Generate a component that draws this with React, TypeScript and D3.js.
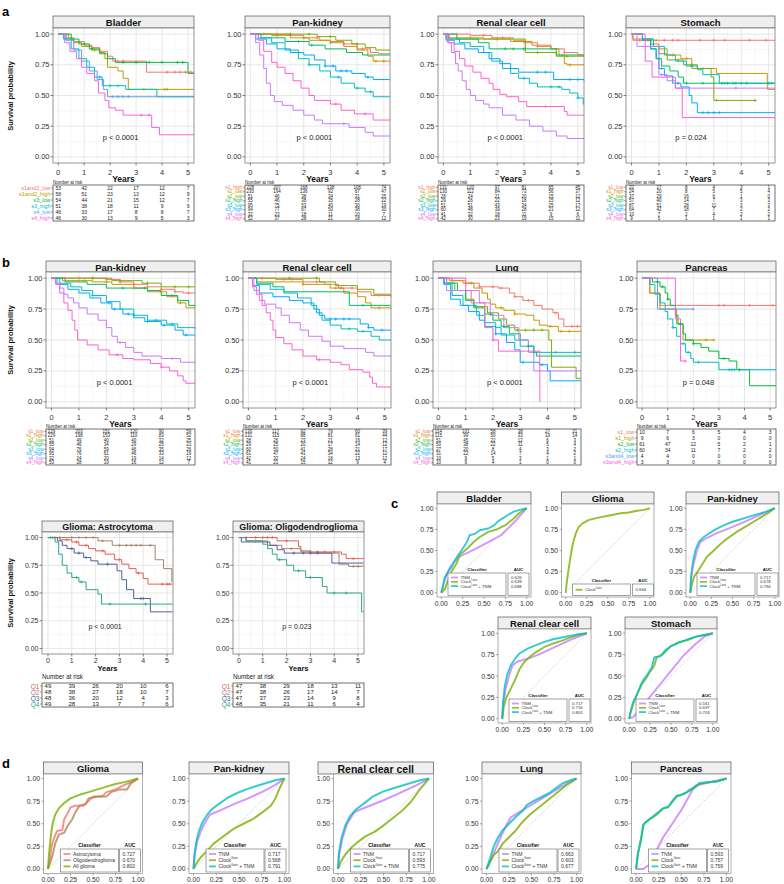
import React from "react";
import * as d3 from "d3";

const FONT = "'Liberation Sans', Arial, Helvetica, sans-serif";

const yearTicks = [0, 1, 2, 3, 4, 5];
const survTicks = [0, 0.25, 0.5, 0.75, 1];
const rocTicks = [0, 0.25, 0.5, 0.75, 1];

const HUE6 = ["#F8766D", "#B79F00", "#00BA38", "#00BFC4", "#619CFF", "#F564E3"];
const HUE8 = ["#F8766D", "#CD9600", "#7CAE00", "#00BE67", "#00BFC4", "#00A9FF", "#C77CFF", "#FF61CC"];
const QCOLORS = ["#E8604A", "#A08672", "#51609A", "#2BA78A"];
const ROC3 = ["#C77CFF", "#7CAE00", "#00BFC4"];
const GLIOMA3 = ["#F8766D", "#B5835A", "#7CAE00"];

// ---------------- panel a ----------------
const bladderGroups = ["s1and2_low", "s1and2_high", "s3_low", "s3_high", "s4_low", "s4_high"];
const bladderCurves = [
  [[0, 1], [0.3, 0.97], [0.6, 0.94], [1.0, 0.91], [1.3, 0.89], [1.6, 0.86], [1.9, 0.82], [2.1, 0.78], [3.4, 0.69], [5.23, 0.69]],
  [[0, 1], [0.4, 0.96], [0.6, 0.93], [0.9, 0.9], [1.3, 0.87], [1.6, 0.85], [1.8, 0.8], [1.9, 0.73], [2.3, 0.7], [2.5, 0.64], [2.7, 0.55], [5.23, 0.55]],
  [[0, 1], [0.5, 0.96], [0.8, 0.92], [1.2, 0.88], [1.6, 0.84], [1.9, 0.8], [2.2, 0.77], [5.0, 0.68], [5.23, 0.68]],
  [[0, 1], [0.2, 0.96], [0.5, 0.88], [0.8, 0.8], [1.1, 0.73], [1.4, 0.65], [1.7, 0.58], [2.6, 0.55], [3.8, 0.49], [5.23, 0.49]],
  [[0, 1], [0.3, 0.95], [0.6, 0.87], [0.9, 0.78], [1.2, 0.7], [1.5, 0.63], [1.75, 0.55], [1.9, 0.49], [5.23, 0.49]],
  [[0, 1], [0.25, 0.93], [0.45, 0.86], [0.7, 0.8], [0.9, 0.73], [1.1, 0.68], [1.4, 0.62], [1.55, 0.52], [1.8, 0.46], [1.95, 0.4], [2.2, 0.38], [2.5, 0.34], [3.6, 0.24], [3.9, 0.18], [5.23, 0.18]],
];
const bladderCensor = [[2.3, 2.5, 4.2, 4.5, 4.7, 4.9, 5.1], [1.4, 3.3, 4.1, 4.2], [1.0, 1.3, 2.5, 3.0, 3.5, 4.0, 4.6, 4.8], [0.3, 1.6, 2.0, 2.3], [2.1, 2.3, 2.5, 2.7], [3.2, 3.5]];
const bladderRisk = [[53, 42, 22, 17, 12, 7], [58, 51, 23, 13, 12, 9], [54, 44, 21, 15, 12, 7], [51, 38, 18, 11, 9, 9], [46, 33, 17, 8, 8, 7], [46, 30, 13, 9, 5, 3]];

const panKidneyAGroups = ["s1_high", "s1_low", "s2_low", "s2_high", "s3_low", "s3_high", "s4_low", "s4_high"];
const panKidneyACurves = [
  [[0, 1], [1.5, 0.99], [2.0, 0.97], [2.6, 0.95], [3.0, 0.94], [3.5, 0.92], [4.0, 0.88], [4.5, 0.85], [4.8, 0.84], [5.23, 0.84]],
  [[0, 1], [0.8, 0.99], [1.5, 0.97], [2.2, 0.95], [3.0, 0.93], [3.5, 0.9], [4.0, 0.87], [4.4, 0.82], [4.6, 0.78], [5.23, 0.78]],
  [[0, 1], [2.5, 0.98], [3.2, 0.95], [3.8, 0.92], [4.3, 0.89], [4.7, 0.87], [5.23, 0.87]],
  [[0, 1], [0.4, 0.97], [1.3, 0.94], [2.2, 0.91], [2.8, 0.88], [3.6, 0.85], [4.2, 0.83], [5.23, 0.83]],
  [[0, 1], [0.3, 0.97], [0.8, 0.93], [1.3, 0.87], [1.8, 0.8], [2.2, 0.75], [2.6, 0.7], [3.0, 0.65], [3.4, 0.6], [3.9, 0.56], [4.3, 0.53], [4.6, 0.49], [5.23, 0.49]],
  [[0, 1], [0.2, 0.96], [0.6, 0.92], [1.0, 0.88], [1.5, 0.85], [2.0, 0.83], [2.4, 0.79], [2.8, 0.74], [3.2, 0.7], [3.8, 0.68], [4.3, 0.65], [4.6, 0.63], [5.23, 0.63]],
  [[0, 1], [0.2, 0.93], [0.35, 0.83], [0.5, 0.72], [0.6, 0.6], [0.75, 0.5], [0.9, 0.45], [1.2, 0.42], [1.6, 0.38], [2.0, 0.34], [2.4, 0.3], [2.7, 0.27], [3.7, 0.24], [4.3, 0.2], [4.6, 0.17], [5.23, 0.17]],
  [[0, 1], [0.3, 0.95], [0.5, 0.86], [0.8, 0.77], [1.0, 0.73], [1.3, 0.68], [1.6, 0.62], [1.9, 0.56], [2.2, 0.5], [2.4, 0.46], [3.0, 0.43], [3.4, 0.38], [3.9, 0.35], [4.6, 0.3], [5.23, 0.3]],
];
const panKidneyACensor = [[0.5, 1.0, 1.5, 2.5, 3.5, 4.2], [1, 2, 3, 4.7, 5.0], [1.5, 2.2, 3.0, 4.0], [1.8, 2.3], [2.2, 3.3, 4.0, 4.5], [2.8, 3.1, 3.4, 3.6, 4.4], [3.5], [3.2, 4.3]];
const panKidneyARisk = [[228, 207, 168, 138, 106, 74], [230, 194, 136, 92, 67, 47], [51, 46, 38, 34, 31, 25], [55, 46, 38, 35, 28, 22], [95, 75, 53, 40, 30, 19], [94, 77, 67, 50, 38, 30], [32, 23, 18, 11, 10, 7], [52, 37, 28, 21, 18, 12]];

const renalAGroups = ["s1_high", "s1_low", "s2_low", "s2_high", "s3_low", "s3_high", "s4_low", "s4_high"];
const renalACurves = [
  [[0, 1], [1.0, 0.99], [1.8, 0.97], [2.6, 0.95], [3.0, 0.93], [3.5, 0.9], [4.0, 0.88], [4.5, 0.85], [5.0, 0.83], [5.23, 0.83]],
  [[0, 1], [0.2, 0.97], [1.5, 0.96], [2.5, 0.94], [3.3, 0.91], [4.0, 0.88], [4.3, 0.83], [4.5, 0.76], [4.6, 0.75], [5.23, 0.75]],
  [[0, 1], [0.1, 0.96], [3.05, 0.85], [4.2, 0.82], [5.23, 0.82]],
  [[0, 1], [0.5, 0.96], [1.3, 0.93], [1.7, 0.88], [4.2, 0.83], [5.23, 0.83]],
  [[0, 1], [0.2, 0.96], [0.6, 0.93], [1.0, 0.9], [1.5, 0.85], [1.8, 0.78], [2.2, 0.72], [2.5, 0.68], [2.8, 0.64], [3.2, 0.6], [3.5, 0.57], [4.4, 0.55], [4.7, 0.52], [5.0, 0.48], [5.2, 0.43], [5.23, 0.43]],
  [[0, 1], [0.1, 0.95], [0.4, 0.92], [0.8, 0.88], [1.3, 0.85], [1.7, 0.8], [2.1, 0.76], [2.5, 0.72], [2.8, 0.69], [4.1, 0.63], [5.23, 0.62]],
  [[0, 1], [0.15, 0.93], [0.3, 0.85], [0.45, 0.76], [0.55, 0.7], [0.7, 0.62], [0.85, 0.55], [1.0, 0.5], [1.2, 0.46], [1.5, 0.43], [1.7, 0.4], [2.2, 0.34], [2.7, 0.3], [3.2, 0.25], [3.7, 0.21], [4.2, 0.17], [4.6, 0.15], [5.23, 0.15]],
  [[0, 1], [0.2, 0.93], [0.4, 0.86], [0.6, 0.8], [0.8, 0.74], [1.1, 0.69], [1.4, 0.64], [1.7, 0.6], [1.85, 0.55], [2.1, 0.51], [2.35, 0.49], [2.8, 0.45], [3.1, 0.41], [4.5, 0.37], [4.6, 0.34], [5.23, 0.34]],
];
const renalACensor = [[0.5, 1.5, 2.2, 3.5, 4.5, 5.1], [1, 2, 3, 4.7], [3.5, 4.6], [2.3, 2.6, 3.0], [3.0, 4.0, 4.3, 5.0], [3.5, 3.8, 4.7, 5.0], [], [3.8]];
const renalARisk = [[131, 120, 97, 81, 65, 45], [130, 112, 84, 73, 56, 37], [28, 24, 21, 20, 15, 12], [29, 26, 22, 18, 15, 12], [51, 51, 43, 34, 25, 17], [60, 48, 39, 28, 21, 12], [41, 32, 18, 11, 9, 6], [42, 30, 23, 19, 15, 11]];

const stomachGroups = ["s1_low", "s1_high", "s2_low", "s2_high", "s3_low", "s3_high", "s4_low", "s4_high"];
const stomachCurves = [
  [[0, 1], [0.05, 0.95], [5.23, 0.95]],
  [[0, 1], [0.05, 0.96], [0.7, 0.92], [1.0, 0.88], [1.3, 0.83], [1.8, 0.8], [2.2, 0.72], [3.1, 0.68], [4.95, 0.55], [5.23, 0.55]],
  [[0, 1], [0.4, 0.96], [0.8, 0.9], [1.0, 0.84], [1.3, 0.79], [1.9, 0.75], [2.4, 0.72], [2.9, 0.65], [3.0, 0.46], [4.55, 0.46]],
  [[0, 1], [0.4, 0.95], [0.7, 0.88], [0.9, 0.8], [1.1, 0.74], [1.4, 0.7], [1.7, 0.65], [1.9, 0.6], [5.23, 0.6]],
  [[0, 1], [0.4, 0.96], [0.8, 0.9], [1.2, 0.83], [1.6, 0.78], [2.0, 0.74], [2.4, 0.71], [2.6, 0.67], [3.2, 0.6], [5.23, 0.6]],
  [[0, 1], [0.4, 0.95], [0.7, 0.88], [0.9, 0.8], [1.0, 0.72], [1.2, 0.66], [1.5, 0.6], [1.8, 0.57], [2.1, 0.5], [2.2, 0.44], [2.4, 0.36], [5.23, 0.36]],
  [[0, 1], [0.2, 0.9], [1.0, 0.67], [1.3, 0.62], [1.6, 0.56], [5.23, 0.56]],
  [[0, 1], [0.5, 0.78], [0.75, 0.65], [1.6, 0.56], [1.85, 0.32], [5.23, 0.32]],
];
const stomachCensor = [[0.3, 0.6, 0.9, 1.2, 1.5, 1.7, 2.5, 3.0, 3.4, 4.3, 4.9], [1.5, 2.0], [1.7, 2.2, 2.6, 3.1, 4.5], [1.0, 2.0, 2.6, 3.3, 3.5, 3.8, 4.2, 5.0], [2.2, 3.4, 3.7, 4.0, 5.1], [1.1, 1.7, 2.6, 2.8, 3.0, 3.2], [1.1, 3.8], []];
const stomachRisk = [[22, 17, 8, 4, 3, 1], [24, 20, 8, 5, 5, 4], [37, 29, 16, 6, 1, 0], [57, 40, 14, 7, 3, 3], [87, 51, 28, 11, 3, 3], [64, 42, 18, 7, 2, 2], [10, 7, 2, 4, 2, 2], [9, 5, 1, 1, 1, 1]];

// ---------------- panel b ----------------
const panKidneyBGroups = ["s1_low", "s1_high", "s2_low", "s2_high", "s3_low", "s3_high", "s4_low", "s4_high"];
const panKidneyBCurves = [
  [[0, 1], [2.0, 0.99], [2.5, 0.97], [3.0, 0.95], [3.5, 0.93], [4.0, 0.91], [4.5, 0.89], [4.8, 0.88], [5.23, 0.88]],
  [[0, 1], [0.4, 0.98], [1.5, 0.97], [2.2, 0.95], [3.0, 0.92], [3.5, 0.89], [4.2, 0.85], [4.6, 0.8], [4.9, 0.76], [5.23, 0.76]],
  [[0, 1], [2.2, 0.98], [3.3, 0.96], [4.0, 0.93], [5.23, 0.93]],
  [[0, 1], [0.5, 0.97], [1.3, 0.95], [2.0, 0.92], [3.5, 0.9], [4.0, 0.86], [4.6, 0.82], [5.0, 0.78], [5.23, 0.77]],
  [[0, 1], [0.3, 0.96], [0.7, 0.93], [1.1, 0.9], [1.5, 0.86], [2.0, 0.81], [2.5, 0.75], [3.0, 0.7], [3.5, 0.66], [4.2, 0.63], [4.6, 0.6], [5.23, 0.59]],
  [[0, 1], [0.2, 0.95], [0.6, 0.91], [1.0, 0.88], [1.4, 0.84], [1.8, 0.8], [2.2, 0.75], [2.6, 0.71], [3.0, 0.68], [3.4, 0.65], [4.0, 0.62], [4.5, 0.58], [4.8, 0.54], [5.23, 0.54]],
  [[0, 1], [0.15, 0.96], [0.3, 0.92], [0.45, 0.87], [0.6, 0.84], [0.8, 0.8], [1.0, 0.76], [1.3, 0.71], [1.7, 0.66], [2.0, 0.6], [2.2, 0.53], [2.4, 0.48], [2.7, 0.44], [3.0, 0.4], [3.3, 0.37], [4.0, 0.35], [4.7, 0.32], [5.23, 0.32]],
  [[0, 1], [0.15, 0.95], [0.3, 0.88], [0.45, 0.8], [0.6, 0.74], [0.75, 0.66], [0.85, 0.58], [0.95, 0.5], [1.3, 0.46], [1.7, 0.42], [2.1, 0.38], [2.6, 0.35], [3.0, 0.34], [3.6, 0.31], [4.0, 0.28], [4.3, 0.25], [4.6, 0.21], [4.8, 0.17], [4.9, 0.15], [5.23, 0.15]],
];
const panKidneyBCensor = [[0.5, 1, 1.5, 2, 2.5, 3, 3.5, 4, 4.5, 5], [1.2, 2, 3, 4, 4.7], [1.5, 2.5, 3.5, 4.5, 5], [2.6, 3.4, 4.4], [1.5, 3.0, 3.8, 4.4], [2.1, 2.3, 2.8, 3.5, 4.1, 4.9], [2.5, 4.4], [2.4, 4.0]];
const panKidneyBRisk = [[229, 203, 151, 120, 90, 59], [229, 198, 153, 110, 83, 52], [51, 49, 40, 40, 32, 25], [55, 46, 34, 29, 25, 21], [94, 76, 59, 46, 35, 26], [95, 76, 61, 46, 33, 19], [32, 24, 20, 19, 14, 12], [53, 28, 19, 16, 12, 7]];

const renalBGroups = ["s1_low", "s1_high", "s2_low", "s2_high", "s3_low", "s3_high", "s4_low", "s4_high"];
const renalBCurves = [
  [[0, 1], [1.0, 0.99], [2.0, 0.97], [2.8, 0.95], [3.3, 0.92], [4.0, 0.89], [4.5, 0.86], [5.23, 0.85]],
  [[0, 1], [0.3, 0.97], [2.0, 0.95], [3.0, 0.92], [3.5, 0.88], [4.0, 0.85], [4.3, 0.8], [4.5, 0.76], [5.23, 0.75]],
  [[0, 1], [2.6, 0.97], [3.2, 0.94], [4.0, 0.91], [4.6, 0.87], [5.23, 0.87]],
  [[0, 1], [0.3, 0.96], [0.9, 0.93], [1.3, 0.89], [3.7, 0.78], [5.23, 0.78]],
  [[0, 1], [0.3, 0.95], [0.8, 0.91], [1.3, 0.88], [1.8, 0.84], [2.3, 0.78], [2.5, 0.72], [2.7, 0.66], [3.0, 0.62], [3.4, 0.59], [4.0, 0.57], [4.5, 0.53], [4.8, 0.5], [5.23, 0.5]],
  [[0, 1], [0.15, 0.94], [0.4, 0.88], [0.9, 0.85], [1.5, 0.82], [2.0, 0.8], [2.4, 0.75], [2.6, 0.7], [2.8, 0.67], [4.1, 0.63], [4.4, 0.6], [4.6, 0.58], [5.23, 0.58]],
  [[0, 1], [0.2, 0.9], [0.4, 0.82], [0.6, 0.79], [1.0, 0.76], [1.2, 0.7], [1.5, 0.64], [1.9, 0.58], [2.2, 0.53], [2.7, 0.49], [3.0, 0.45], [3.5, 0.43], [4.3, 0.4], [4.6, 0.37], [5.23, 0.37]],
  [[0, 1], [0.15, 0.93], [0.3, 0.87], [0.5, 0.78], [0.65, 0.72], [0.8, 0.66], [0.9, 0.58], [1.0, 0.52], [1.3, 0.47], [1.6, 0.42], [2.0, 0.37], [2.5, 0.34], [3.0, 0.32], [3.4, 0.3], [3.7, 0.26], [4.2, 0.24], [4.45, 0.2], [4.55, 0.15], [4.7, 0.12], [5.23, 0.12]],
];
const renalBCensor = [[0.5, 1.3, 1.6, 2.5, 3.4, 3.8, 4.8], [2, 3.2, 4.8], [1.5, 2.5], [4.2], [3.7, 4.2], [3.0, 3.2, 3.5, 3.7, 4.4, 4.9], [], [2.6]];
const renalBRisk = [[130, 117, 92, 79, 60, 39], [131, 115, 88, 81, 61, 44], [28, 26, 23, 21, 16, 12], [29, 25, 20, 17, 14, 12], [60, 50, 41, 28, 21, 17], [61, 47, 41, 34, 22, 12], [42, 32, 24, 18, 13, 12], [41, 21, 15, 12, 9, 4]];

const lungGroups = ["s1_low", "s1_high", "s2_low", "s2_high", "s3_low", "s3_high", "s4_low", "s4_high"];
const lungCurves = [
  [[0, 1], [0.5, 0.98], [1.0, 0.96], [1.5, 0.93], [2.2, 0.92], [2.6, 0.88], [2.8, 0.85], [3.1, 0.82], [3.5, 0.78], [3.8, 0.75], [4.2, 0.72], [4.4, 0.67], [4.6, 0.61], [5.23, 0.61]],
  [[0, 1], [0.4, 0.98], [0.9, 0.96], [1.3, 0.92], [1.6, 0.88], [1.8, 0.83], [1.9, 0.79], [2.1, 0.76], [2.4, 0.74], [2.8, 0.71], [3.2, 0.7], [3.5, 0.66], [3.7, 0.62], [4.0, 0.61], [4.4, 0.57], [5.23, 0.57]],
  [[0, 1], [0.2, 0.96], [0.6, 0.9], [1.0, 0.83], [1.3, 0.77], [1.8, 0.72], [2.2, 0.67], [2.5, 0.62], [2.8, 0.58], [4.05, 0.5], [4.15, 0.28], [5.05, 0.19], [5.23, 0.19]],
  [[0, 1], [0.3, 0.96], [0.7, 0.9], [1.0, 0.82], [1.3, 0.76], [1.7, 0.71], [2.0, 0.66], [2.3, 0.61], [2.6, 0.55], [3.0, 0.5], [3.3, 0.45], [3.5, 0.4], [3.6, 0.37], [5.23, 0.37]],
  [[0, 1], [0.2, 0.96], [0.5, 0.86], [0.9, 0.78], [1.4, 0.7], [1.7, 0.64], [2.1, 0.6], [2.3, 0.54], [2.8, 0.5], [3.0, 0.45], [3.5, 0.4], [5.23, 0.4]],
  [[0, 1], [0.2, 0.95], [0.45, 0.83], [0.8, 0.78], [1.1, 0.73], [1.5, 0.66], [1.7, 0.61], [2.1, 0.55], [2.5, 0.48], [2.8, 0.42], [3.0, 0.32], [3.7, 0.3], [4.0, 0.25], [4.1, 0.17], [5.23, 0.17]],
  [[0, 1], [0.3, 0.9], [1.5, 0.8], [1.9, 0.7], [2.4, 0.6], [2.95, 0.5], [3.3, 0.4], [3.5, 0.25], [5.23, 0.25]],
  [[0, 1], [1.0, 0.9], [1.2, 0.8], [1.7, 0.6], [2.0, 0.5], [2.2, 0.41], [3.72, 0.0], [3.73, 0.0]],
];
const lungCensor = [[0.5, 1, 1.5, 2, 2.3, 2.8, 3.3, 4.3, 4.9, 5.1], [1.2, 2.3, 2.8, 4.1, 4.5, 4.8], [2.9, 3.2, 3.5, 3.8], [1.9, 2.4, 3.3], [3.5, 4.3, 5.0], [2.1, 3.1, 3.8], [3.0], [2.0]];
const lungRisk = [[114, 101, 58, 38, 27, 21], [115, 99, 50, 33, 19, 14], [51, 45, 22, 12, 6, 3], [50, 38, 22, 11, 5, 4], [27, 20, 8, 4, 3, 2], [31, 22, 14, 7, 4, 2], [10, 9, 5, 3, 1, 1], [10, 9, 4, 1, 0, 0]];

const pancreasGroups = ["s1_low", "s1_high", "s2_low", "s2_high", "s3and4_low", "s3and4_high"];
const pancreasCurves = [
  [[0, 1], [0.3, 0.88], [0.7, 0.78], [5.23, 0.78]],
  [[0, 1], [0.3, 0.88], [0.7, 0.75], [1.35, 0.63], [1.6, 0.5], [2.8, 0.5]],
  [[0, 1], [0.4, 0.97], [0.7, 0.93], [0.9, 0.88], [1.0, 0.83], [1.1, 0.78], [1.3, 0.7], [1.4, 0.63], [1.6, 0.55], [1.7, 0.5], [2.0, 0.47], [2.3, 0.44], [2.6, 0.41], [3.0, 0.35], [3.4, 0.33], [3.7, 0.26], [4.2, 0.13], [5.23, 0.13]],
  [[0, 1], [0.3, 0.95], [0.5, 0.87], [0.7, 0.8], [0.9, 0.73], [1.0, 0.67], [1.2, 0.6], [1.35, 0.53], [1.5, 0.47], [1.7, 0.4], [1.9, 0.35], [2.0, 0.32], [3.0, 0.26], [5.23, 0.26]],
  [[0, 1], [0.6, 0.75], [2.0, 0.75]],
  [[0, 1], [1.3, 0.67], [1.5, 0.33], [1.7, 0.33]],
];
const pancreasCensor = [[3.0, 3.2, 4.2, 5.1], [2.5, 2.8], [0.6, 0.8, 1.0, 1.5, 2.0, 3.2, 3.8], [1.2, 1.6, 1.8, 2.2, 3.4, 3.5, 3.6], [2.0], [1.7]];
const pancreasRisk = [[10, 7, 6, 5, 4, 3], [9, 6, 3, 0, 0, 0], [61, 47, 12, 5, 2, 1], [60, 34, 11, 7, 2, 2], [4, 4, 0, 0, 0, 0], [3, 3, 0, 0, 0, 0]];

const gliomaGroups = ["Q1", "Q2", "Q3", "Q4"];
const astroCurves = [
  [[0, 1], [0.5, 0.98], [1.0, 0.96], [1.3, 0.93], [1.7, 0.9], [2.0, 0.88], [2.4, 0.85], [2.8, 0.8], [3.1, 0.76], [3.4, 0.72], [3.7, 0.68], [4.0, 0.63], [4.2, 0.58], [5.23, 0.58]],
  [[0, 1], [2.1, 0.97], [2.7, 0.93], [4.5, 0.8], [4.85, 0.72], [5.2, 0.6], [5.23, 0.6]],
  [[0, 1], [0.4, 0.97], [0.6, 0.93], [0.8, 0.9], [1.1, 0.86], [1.5, 0.82], [1.8, 0.79], [2.1, 0.76], [2.9, 0.7], [3.1, 0.62], [3.3, 0.53], [3.6, 0.45], [4.3, 0.33], [5.23, 0.33]],
  [[0, 1], [0.3, 0.96], [0.45, 0.85], [0.6, 0.75], [0.8, 0.68], [1.0, 0.64], [1.3, 0.6], [1.6, 0.53], [2.1, 0.49], [2.25, 0.4], [5.23, 0.4]],
];
const astroCensor = [[0.3, 0.8, 1.2, 1.6, 2.3, 3.0, 3.8, 4.8, 5.0, 5.1], [0.5, 1.0, 1.3, 1.6, 1.9, 2.3, 3.0, 3.3, 3.5, 3.7, 3.9, 4.3], [1.0, 1.3, 1.6, 2.5, 3.9, 4.0], [0.1, 0.2, 1.2, 1.4, 2.6, 4.1]];
const astroRisk = [[49, 39, 26, 20, 10, 6], [48, 38, 27, 18, 10, 7], [48, 36, 20, 12, 4, 3], [49, 28, 13, 7, 7, 6]];

const oligoCurves = [
  [[0, 1], [1.6, 0.97], [2.5, 0.92], [2.6, 0.87], [4.3, 0.85], [4.5, 0.81], [5.23, 0.81]],
  [[0, 1], [0.3, 0.97], [1.2, 0.93], [1.8, 0.9], [2.6, 0.88], [3.0, 0.86], [4.2, 0.76], [4.6, 0.74], [5.23, 0.74]],
  [[0, 1], [0.1, 0.96], [1.3, 0.93], [1.6, 0.89], [1.9, 0.86], [3.9, 0.77], [5.23, 0.77]],
  [[0, 1], [0.3, 0.97], [1.0, 0.94], [1.2, 0.9], [1.4, 0.85], [1.6, 0.8], [2.0, 0.75], [2.3, 0.7], [2.8, 0.64], [3.5, 0.56], [3.7, 0.5], [5.15, 0.33], [5.23, 0.33]],
];
const oligoCensor = [[0.3, 0.7, 1.0, 1.2, 1.4, 2.0, 3.0, 3.3, 3.6, 4.0, 4.8], [0.7, 2.2, 4.8, 5.0], [2.3, 2.7, 3.0, 3.3], [1.7, 2.5, 3.0, 4.0, 4.5]];
const oligoRisk = [[47, 38, 29, 18, 13, 11], [47, 38, 26, 17, 14, 7], [47, 37, 23, 14, 9, 8], [48, 35, 21, 11, 6, 4]];

// ---------------- ROC panels ----------------
const clsLoss = [["TNM"], ["Clock", "Loss"], ["Clock", "Loss", " + TNM"]];
const clsGain = [["TNM"], ["Clock", "Gain"], ["Clock", "Gain", " + TNM"]];
const clsGlioma = [["Astrocytoma"], ["Oligodendroglioma"], ["All glioma"]];

const cBladderRoc = [
  [[0, 0], [0.03, 0.12], [0.1, 0.3], [0.2, 0.42], [0.4, 0.52], [0.55, 0.6], [0.7, 0.68], [0.85, 0.83], [1, 1]],
  [[0, 0], [0.04, 0.04], [0.08, 0.15], [0.12, 0.25], [0.18, 0.35], [0.22, 0.45], [0.3, 0.52], [0.38, 0.6], [0.45, 0.66], [0.55, 0.72], [0.65, 0.75], [0.75, 0.8], [0.85, 0.88], [0.92, 0.95], [1, 1]],
  [[0, 0], [0.02, 0.08], [0.04, 0.18], [0.08, 0.25], [0.12, 0.3], [0.15, 0.37], [0.2, 0.45], [0.25, 0.52], [0.3, 0.6], [0.33, 0.68], [0.4, 0.7], [0.45, 0.74], [0.55, 0.76], [0.62, 0.8], [0.67, 0.85], [0.72, 0.88], [0.78, 0.92], [0.85, 0.96], [0.92, 0.98], [1, 1]],
];
const cBladderAuc = ["0.626", "0.639", "0.688"];
const cGliomaRoc = [
  [[0, 0], [0.01, 0.1], [0.03, 0.25], [0.05, 0.38], [0.07, 0.5], [0.09, 0.6], [0.12, 0.7], [0.15, 0.77], [0.2, 0.82], [0.27, 0.86], [0.35, 0.88], [0.45, 0.9], [0.55, 0.92], [0.65, 0.94], [0.75, 0.95], [0.85, 0.97], [0.93, 0.98], [1, 1]],
];
const cGliomaAuc = ["0.844"];
const cPanKidneyRoc = [
  [[0, 0], [0.01, 0.15], [0.03, 0.3], [0.08, 0.5], [0.12, 0.6], [0.2, 0.65], [0.3, 0.7], [0.45, 0.76], [0.6, 0.82], [0.8, 0.91], [1, 1]],
  [[0, 0], [0.02, 0.1], [0.05, 0.2], [0.1, 0.27], [0.15, 0.35], [0.2, 0.43], [0.28, 0.5], [0.35, 0.57], [0.45, 0.65], [0.55, 0.72], [0.65, 0.78], [0.75, 0.84], [0.85, 0.9], [0.93, 0.95], [1, 1]],
  [[0, 0], [0.01, 0.2], [0.03, 0.35], [0.06, 0.5], [0.1, 0.6], [0.15, 0.65], [0.22, 0.7], [0.3, 0.75], [0.4, 0.8], [0.5, 0.84], [0.6, 0.87], [0.7, 0.9], [0.8, 0.93], [0.9, 0.96], [1, 1]],
];
const cPanKidneyAuc = ["0.717", "0.678", "0.794"];
const cRenalRoc = [
  [[0, 0], [0.01, 0.15], [0.04, 0.35], [0.08, 0.5], [0.12, 0.62], [0.18, 0.67], [0.3, 0.7], [0.45, 0.76], [0.6, 0.83], [0.8, 0.92], [1, 1]],
  [[0, 0], [0.02, 0.15], [0.05, 0.25], [0.1, 0.35], [0.15, 0.45], [0.2, 0.57], [0.25, 0.65], [0.32, 0.72], [0.4, 0.78], [0.5, 0.84], [0.6, 0.88], [0.7, 0.91], [0.8, 0.95], [0.9, 0.98], [1, 1]],
  [[0, 0], [0.01, 0.2], [0.03, 0.38], [0.06, 0.52], [0.1, 0.62], [0.15, 0.7], [0.2, 0.76], [0.3, 0.82], [0.4, 0.86], [0.5, 0.9], [0.6, 0.93], [0.7, 0.95], [0.8, 0.97], [0.9, 0.99], [1, 1]],
];
const cRenalAuc = ["0.717", "0.716", "0.801"];
const cStomachRoc = [
  [[0, 0], [0.05, 0.02], [0.2, 0.2], [0.35, 0.38], [0.5, 0.56], [0.65, 0.74], [0.8, 0.88], [0.9, 0.96], [1, 1]],
  [[0, 0], [0.02, 0.08], [0.05, 0.18], [0.1, 0.3], [0.15, 0.4], [0.2, 0.47], [0.25, 0.55], [0.3, 0.62], [0.33, 0.72], [0.4, 0.75], [0.45, 0.8], [0.5, 0.85], [0.6, 0.9], [0.7, 0.92], [0.8, 0.96], [0.9, 0.98], [1, 1]],
  [[0, 0], [0.02, 0.1], [0.05, 0.2], [0.1, 0.3], [0.14, 0.4], [0.18, 0.47], [0.22, 0.52], [0.27, 0.6], [0.3, 0.72], [0.37, 0.73], [0.43, 0.8], [0.5, 0.85], [0.6, 0.89], [0.7, 0.93], [0.8, 0.96], [0.9, 0.98], [1, 1]],
];
const cStomachAuc = ["0.561", "0.697", "0.703"];

const dGliomaRoc = [
  [[0, 0], [0.02, 0.1], [0.04, 0.25], [0.07, 0.35], [0.1, 0.42], [0.16, 0.43], [0.18, 0.55], [0.22, 0.62], [0.25, 0.68], [0.3, 0.7], [0.4, 0.7], [0.45, 0.75], [0.5, 0.8], [0.6, 0.8], [0.65, 0.85], [0.75, 0.88], [0.85, 0.93], [0.95, 0.97], [1, 1]],
  [[0, 0], [0.05, 0.15], [0.08, 0.28], [0.12, 0.38], [0.18, 0.4], [0.22, 0.48], [0.27, 0.55], [0.3, 0.62], [0.35, 0.7], [0.42, 0.72], [0.45, 0.78], [0.55, 0.8], [0.65, 0.8], [0.7, 0.85], [0.8, 0.88], [0.88, 0.88], [0.92, 0.95], [1, 1]],
  [[0, 0], [0.01, 0.15], [0.03, 0.35], [0.05, 0.5], [0.08, 0.6], [0.12, 0.67], [0.18, 0.73], [0.25, 0.78], [0.35, 0.82], [0.45, 0.85], [0.55, 0.88], [0.65, 0.91], [0.75, 0.94], [0.85, 0.96], [0.93, 0.98], [1, 1]],
];
const dGliomaAuc = ["0.727", "0.670", "0.802"];
const dPanKidneyRoc = [
  [[0, 0], [0.01, 0.15], [0.04, 0.3], [0.08, 0.42], [0.13, 0.52], [0.18, 0.6], [0.3, 0.65], [0.45, 0.72], [0.6, 0.78], [0.75, 0.85], [0.9, 0.93], [1, 1]],
  [[0, 0], [0.03, 0.06], [0.08, 0.13], [0.15, 0.2], [0.22, 0.28], [0.3, 0.34], [0.38, 0.4], [0.45, 0.45], [0.55, 0.5], [0.65, 0.55], [0.75, 0.62], [0.85, 0.7], [0.9, 0.78], [0.95, 0.9], [1, 1]],
  [[0, 0], [0.01, 0.15], [0.03, 0.3], [0.06, 0.42], [0.1, 0.52], [0.15, 0.6], [0.2, 0.66], [0.28, 0.72], [0.38, 0.79], [0.48, 0.84], [0.58, 0.88], [0.7, 0.92], [0.8, 0.95], [0.9, 0.98], [1, 1]],
];
const dPanKidneyAuc = ["0.717", "0.568", "0.791"];
const dRenalRoc = [
  [[0, 0], [0.01, 0.15], [0.05, 0.35], [0.1, 0.5], [0.18, 0.63], [0.3, 0.68], [0.5, 0.76], [0.7, 0.85], [0.85, 0.92], [1, 1]],
  [[0, 0], [0.03, 0.08], [0.08, 0.16], [0.15, 0.24], [0.22, 0.3], [0.3, 0.36], [0.4, 0.41], [0.5, 0.48], [0.6, 0.56], [0.7, 0.64], [0.8, 0.74], [0.9, 0.88], [1, 1]],
  [[0, 0], [0.01, 0.18], [0.04, 0.35], [0.08, 0.48], [0.13, 0.58], [0.2, 0.66], [0.28, 0.72], [0.38, 0.8], [0.48, 0.85], [0.6, 0.89], [0.7, 0.92], [0.8, 0.95], [0.9, 0.98], [1, 1]],
];
const dRenalAuc = ["0.717", "0.593", "0.775"];
const dLungRoc = [
  [[0, 0], [0.05, 0.1], [0.1, 0.22], [0.17, 0.38], [0.23, 0.5], [0.27, 0.57], [0.35, 0.62], [0.45, 0.68], [0.6, 0.77], [0.75, 0.86], [0.9, 0.95], [1, 1]],
  [[0, 0], [0.04, 0.08], [0.08, 0.15], [0.13, 0.2], [0.18, 0.28], [0.25, 0.35], [0.32, 0.42], [0.4, 0.52], [0.48, 0.6], [0.58, 0.68], [0.68, 0.76], [0.78, 0.84], [0.88, 0.92], [1, 1]],
  [[0, 0], [0.04, 0.12], [0.08, 0.25], [0.13, 0.35], [0.18, 0.43], [0.25, 0.5], [0.33, 0.58], [0.4, 0.64], [0.45, 0.71], [0.52, 0.75], [0.6, 0.79], [0.7, 0.84], [0.78, 0.9], [0.85, 0.95], [0.93, 0.98], [1, 1]],
];
const dLungAuc = ["0.663", "0.603", "0.677"];
const dPancreasRoc = [
  [[0, 0], [0.08, 0.0], [0.15, 0.05], [0.3, 0.35], [0.5, 0.65], [0.65, 0.92], [1, 1]],
  [[0, 0], [0.01, 0.08], [0.02, 0.16], [0.04, 0.25], [0.06, 0.35], [0.08, 0.48], [0.1, 0.51], [0.15, 0.55], [0.2, 0.58], [0.25, 0.62], [0.3, 0.67], [0.35, 0.68], [0.4, 0.74], [0.45, 0.8], [0.5, 0.82], [0.55, 0.84], [0.6, 0.87], [0.65, 0.9], [0.7, 0.94], [0.8, 0.96], [0.9, 0.97], [1, 1]],
  [[0, 0], [0.01, 0.07], [0.02, 0.17], [0.04, 0.26], [0.06, 0.36], [0.08, 0.49], [0.11, 0.52], [0.15, 0.55], [0.2, 0.59], [0.25, 0.63], [0.3, 0.67], [0.36, 0.69], [0.4, 0.75], [0.45, 0.81], [0.5, 0.82], [0.56, 0.85], [0.6, 0.88], [0.66, 0.91], [0.7, 0.95], [0.8, 0.96], [0.9, 0.97], [1, 1]],
];
const dPancreasAuc = ["0.593", "0.757", "0.759"];

// ---------------- layout configs ----------------
const AROW = { top: 28, bottom: 163, stripH: 12, tTop: 185, tBottom: 221, xDom: [-0.2, 5.23], big: false };
const BROW = { top: 272, bottom: 408, stripH: 11, tTop: 429, tBottom: 465, xDom: [-0.2, 5.23], big: false };
const GROW = { top: 532, bottom: 654, stripH: 11, tTop: 683, tBottom: 707, xDom: [-0.25, 5.25], big: true };

const kmPanels = [
  { ...AROW, title: "Bladder", left: 53, right: 194, groups: bladderGroups, colors: HUE6, curves: bladderCurves, censors: bladderCensor, risk: bladderRisk, p: "p < 0.0001", px: 2.4, py: 0.16 },
  { ...AROW, title: "Pan-kidney", left: 245, right: 390, groups: panKidneyAGroups, colors: HUE8, curves: panKidneyACurves, censors: panKidneyACensor, risk: panKidneyARisk, p: "p < 0.0001", px: 2.4, py: 0.16 },
  { ...AROW, title: "Renal clear cell", left: 438, right: 584, groups: renalAGroups, colors: HUE8, curves: renalACurves, censors: renalACensor, risk: renalARisk, p: "p < 0.0001", px: 2.3, py: 0.16 },
  { ...AROW, title: "Stomach", left: 626, right: 775, groups: stomachGroups, colors: HUE8, curves: stomachCurves, censors: stomachCensor, risk: stomachRisk, p: "p = 0.024", px: 2.17, py: 0.16 },
  { ...BROW, title: "Pan-kidney", left: 46, right: 195, groups: panKidneyBGroups, colors: HUE8, curves: panKidneyBCurves, censors: panKidneyBCensor, risk: panKidneyBRisk, p: "p < 0.0001", px: 2.3, py: 0.16 },
  { ...BROW, title: "Renal clear cell", left: 243, right: 391, groups: renalBGroups, colors: HUE8, curves: renalBCurves, censors: renalBCensor, risk: renalBRisk, p: "p < 0.0001", px: 2.27, py: 0.16 },
  { ...BROW, title: "Lung", left: 433, right: 581, groups: lungGroups, colors: HUE8, curves: lungCurves, censors: lungCensor, risk: lungRisk, p: "p < 0.0001", px: 2.44, py: 0.16 },
  { ...BROW, title: "Pancreas", left: 637, right: 776, groups: pancreasGroups, colors: HUE6, curves: pancreasCurves, censors: pancreasCensor, risk: pancreasRisk, p: "p = 0.048", px: 2.2, py: 0.16 },
  { ...GROW, title: "Glioma: Astrocytoma", left: 42, right: 173, groups: gliomaGroups, colors: QCOLORS, curves: astroCurves, censors: astroCensor, risk: astroRisk, p: "p < 0.0001", px: 2.4, py: 0.2 },
  { ...GROW, title: "Glioma: Oligodendroglioma", left: 233, right: 364, groups: gliomaGroups, colors: QCOLORS, curves: oligoCurves, censors: oligoCensor, risk: oligoRisk, p: "p = 0.023", px: 2.43, py: 0.2 },
];

const CROW1 = { top: 504, bottom: 597, stripH: 12, kind: "c" };
const CROW2 = { top: 629, bottom: 723, stripH: 12, kind: "c" };
const DROW = { top: 774, bottom: 873.5, stripH: 12, kind: "d" };

const rocPanels = [
  { ...CROW1, title: "Bladder", left: 437, right: 531, curves: cBladderRoc, colors: ROC3, names: clsLoss, aucs: cBladderAuc },
  { ...CROW1, title: "Glioma", left: 561.5, right: 654, curves: cGliomaRoc, colors: [ROC3[1]], names: [clsLoss[1]], aucs: cGliomaAuc },
  { ...CROW1, title: "Pan-kidney", left: 686, right: 779, curves: cPanKidneyRoc, colors: ROC3, names: clsLoss, aucs: cPanKidneyAuc },
  { ...CROW2, title: "Renal clear cell", left: 498, right: 591, curves: cRenalRoc, colors: ROC3, names: clsLoss, aucs: cRenalAuc },
  { ...CROW2, title: "Stomach", left: 625, right: 717, curves: cStomachRoc, colors: ROC3, names: clsLoss, aucs: cStomachAuc },
  { ...DROW, title: "Glioma", left: 43.5, right: 142.5, curves: dGliomaRoc, colors: GLIOMA3, names: clsGlioma, aucs: dGliomaAuc },
  { ...DROW, title: "Pan-kidney", left: 189, right: 289, curves: dPanKidneyRoc, colors: ROC3, names: clsGain, aucs: dPanKidneyAuc },
  { ...DROW, title: "Renal clear cell", left: 333.5, right: 433.5, stripLeft: 318, stripFont: 10.5, curves: dRenalRoc, colors: ROC3, names: clsGain, aucs: dRenalAuc },
  { ...DROW, title: "Lung", left: 482, right: 581, curves: dLungRoc, colors: ROC3, names: clsGain, aucs: dLungAuc },
  { ...DROW, title: "Pancreas", left: 631.5, right: 731, curves: dPancreasRoc, colors: ROC3, names: clsGain, aucs: dPancreasAuc },
];

function stepValue(curve: number[][], t: number) {
  let s = curve[0][1];
  for (const p of curve) {
    if (p[0] <= t) s = p[1];
    else break;
  }
  return s;
}

function KMPanel({ c }: { c: any }) {
  const x = d3.scaleLinear().domain(c.xDom).range([c.left, c.right]);
  const y = d3.scaleLinear().domain([-0.05, 1.05]).range([c.bottom, c.top]);
  const line = d3
    .line<number[]>()
    .x((d) => x(d[0]))
    .y((d) => y(d[1]))
    .curve(d3.curveStepAfter);
  const n = c.groups.length;
  const rowH = (c.tBottom - c.tTop) / n;
  const rf = c.big ? 6 : Math.min(5, rowH * 1.0);
  const tickF = c.big ? 7 : 7.5;
  const minorX = [0.5, 1.5, 2.5, 3.5, 4.5];
  const minorY = [0.125, 0.375, 0.625, 0.875];
  const xlabY = c.big ? c.bottom + 8.5 : c.bottom + 11.5;
  const yearsY = c.big ? c.bottom + 17 : c.bottom + 18.5;
  const cx = (c.left + c.right) / 2;
  return (
    <g>
      <rect x={c.left} y={c.top - c.stripH} width={c.right - c.left} height={c.stripH} fill="#EFEFEF" stroke="#555" strokeWidth={0.7} />
      <text x={cx} y={c.top - c.stripH / 2 + 0.5} textAnchor="middle" dominantBaseline="central" fontWeight="bold" fontSize={c.big ? 9 : 9.5} fill="#111">
        {c.title}
      </text>
      <rect x={c.left} y={c.top} width={c.right - c.left} height={c.bottom - c.top} fill="#fff" />
      {minorX.map((t) => (
        <line key={"mx" + t} x1={x(t)} x2={x(t)} y1={c.top} y2={c.bottom} stroke="#F0F0F0" strokeWidth={0.5} />
      ))}
      {minorY.map((t) => (
        <line key={"my" + t} y1={y(t)} y2={y(t)} x1={c.left} x2={c.right} stroke="#F0F0F0" strokeWidth={0.5} />
      ))}
      {yearTicks.map((t) => (
        <line key={"gx" + t} x1={x(t)} x2={x(t)} y1={c.top} y2={c.bottom} stroke="#E4E4E4" strokeWidth={0.9} />
      ))}
      {survTicks.map((t) => (
        <line key={"gy" + t} y1={y(t)} y2={y(t)} x1={c.left} x2={c.right} stroke="#E4E4E4" strokeWidth={0.9} />
      ))}
      {c.curves.map((cv: number[][], i: number) => (
        <path key={"cv" + i} d={line(cv) || ""} fill="none" stroke={c.colors[i]} strokeWidth={1} />
      ))}
      {c.censors.map((ts: number[], i: number) =>
        ts.map((t, j) => {
          const px = x(t);
          const py = y(stepValue(c.curves[i], t));
          return <path key={"cs" + i + "_" + j} d={`M${px - 1.6},${py}h3.2M${px},${py - 1.6}v3.2`} stroke={c.colors[i]} strokeWidth={0.7} />;
        })
      )}
      <rect x={c.left} y={c.top} width={c.right - c.left} height={c.bottom - c.top} fill="none" stroke="#7A7A7A" strokeWidth={0.8} />
      {survTicks.map((t) => (
        <g key={"yt" + t}>
          <line x1={c.left - 2.5} x2={c.left} y1={y(t)} y2={y(t)} stroke="#333" strokeWidth={0.6} />
          <text x={c.left - 3.5} y={y(t)} textAnchor="end" dominantBaseline="central" fontSize={tickF} fill="#333">
            {t.toFixed(2)}
          </text>
        </g>
      ))}
      {yearTicks.map((t) => (
        <g key={"xt" + t}>
          <line x1={x(t)} x2={x(t)} y1={c.bottom} y2={c.bottom + 2.5} stroke="#333" strokeWidth={0.6} />
          <text x={x(t)} y={xlabY} textAnchor="middle" fontSize={tickF} fill="#333">
            {t}
          </text>
        </g>
      ))}
      <text x={cx} y={yearsY} textAnchor="middle" fontWeight="bold" fontSize={c.big ? 7.5 : 8.5} fill="#111">
        Years
      </text>
      <text x={x(c.px)} y={y(c.py)} textAnchor="middle" dominantBaseline="central" fontSize={c.big ? 7 : 7.5} fill="#222">
        {c.p}
      </text>
      <text x={c.left} y={c.tTop - (c.big ? 4 : 1.2)} fontSize={c.big ? 6.3 : 4.5} fill="#222">
        Number at risk
      </text>
      {/* risk table */}
      {yearTicks.map((t) => (
        <line key={"rgx" + t} x1={x(t)} x2={x(t)} y1={c.tTop} y2={c.tBottom} stroke="#F2F2F2" strokeWidth={0.5} />
      ))}
      {c.groups.map((g: string, i: number) => {
        const ry = c.tTop + (i + 0.5) * rowH;
        return (
          <g key={"rr" + i}>
            <line x1={c.left - 1.8} x2={c.left} y1={ry} y2={ry} stroke="#333" strokeWidth={0.5} />
            <text x={c.left - 2.5} y={ry} textAnchor="end" dominantBaseline="central" fontSize={rf * 1.1} fill={c.colors[i]}>
              {g}
            </text>
            {c.risk[i].map((v: number, j: number) => (
              <text key={"rv" + j} x={x(yearTicks[j])} y={ry} textAnchor="middle" dominantBaseline="central" fontSize={rf} fill="#222">
                {v}
              </text>
            ))}
          </g>
        );
      })}
      <rect x={c.left} y={c.tTop} width={c.right - c.left} height={c.tBottom - c.tTop} fill="none" stroke="#333" strokeWidth={0.7} />
    </g>
  );
}

function ClsLabel({ parts, x, y, size }: { parts: string[]; x: number; y: number; size: number }) {
  return (
    <text x={x} y={y} fontSize={size} dominantBaseline="central" fill="#333">
      {parts[0]}
      {parts[1] ? (
        <tspan dy={-size * 0.35} fontSize={size * 0.65}>
          {parts[1]}
        </tspan>
      ) : null}
      {parts[2] ? (
        <tspan dy={size * 0.35} fontSize={size}>
          {parts[2]}
        </tspan>
      ) : null}
    </text>
  );
}

function ROCPanel({ c }: { c: any }) {
  const x = d3.scaleLinear().domain([-0.05, 1.05]).range([c.left, c.right]);
  const y = d3.scaleLinear().domain([-0.05, 1.05]).range([c.bottom, c.top]);
  const line = d3
    .line<number[]>()
    .x((d) => x(d[0]))
    .y((d) => y(d[1]));
  const isD = c.kind === "d";
  const sl = c.stripLeft ?? c.left;
  const nE = c.names.length;
  const bx = c.left + (isD ? 17 : 11);
  const bw = 58;
  const ax = c.left + (isD ? 76 : 71);
  const aw = 21;
  const boxBottom = c.bottom - 1.5;
  const rowGap = isD ? 6.2 : 4.3;
  const boxTop = nE === 1 ? c.bottom - 13 : boxBottom - (isD ? 23 : 22.5);
  const lf = isD ? 5 : 4.3;
  const firstRow = nE === 1 ? (boxTop + boxBottom) / 2 : boxTop + (isD ? 5 : 4.5);
  return (
    <g>
      <rect x={sl} y={c.top - c.stripH} width={c.right - sl} height={c.stripH} fill="#EFEFEF" stroke="#555" strokeWidth={0.7} />
      <text x={(sl + c.right) / 2} y={c.top - c.stripH / 2 + 0.5} textAnchor="middle" dominantBaseline="central" fontWeight="bold" fontSize={c.stripFont ?? 9.5} fill="#111">
        {c.title}
      </text>
      <rect x={c.left} y={c.top} width={c.right - c.left} height={c.bottom - c.top} fill="#fff" stroke="#9A9A9A" strokeWidth={0.8} />
      <line x1={x(0)} y1={y(0)} x2={x(1)} y2={y(1)} stroke="#AAA" strokeWidth={0.6} strokeDasharray="1.5,1.5" />
      {c.curves.map((cv: number[][], i: number) => (
        <path key={"rc" + i} d={line(cv) || ""} fill="none" stroke={c.colors[i]} strokeOpacity={0.8} strokeWidth={isD ? 2 : 1.9} strokeLinejoin="round" />
      ))}
      {rocTicks.map((t) => (
        <g key={"ry" + t}>
          <line x1={c.left - 2} x2={c.left} y1={y(t)} y2={y(t)} stroke="#555" strokeWidth={0.5} />
          <text x={c.left - 3.5} y={y(t)} textAnchor="end" dominantBaseline="central" fontSize={6.8} fill="#333">
            {t.toFixed(2)}
          </text>
        </g>
      ))}
      {rocTicks.map((t) => (
        <g key={"rx" + t}>
          <line x1={x(t)} x2={x(t)} y1={c.bottom} y2={c.bottom + 2} stroke="#555" strokeWidth={0.5} />
          <text x={x(t)} y={c.bottom + (isD ? 8.3 : 8.5)} textAnchor="middle" fontSize={6.8} fill="#333">
            {t.toFixed(2)}
          </text>
        </g>
      ))}
      {/* legend */}
      <text x={bx + bw / 2} y={boxTop - 2.5} textAnchor="middle" fontWeight="bold" fontSize={lf} fill="#111">
        Classifier
      </text>
      <text x={ax + aw / 2} y={boxTop - 2.5} textAnchor="middle" fontWeight="bold" fontSize={lf} fill="#111">
        AUC
      </text>
      <rect x={bx} y={boxTop} width={bw} height={boxBottom - boxTop} fill="#fff" stroke="#666" strokeWidth={0.6} />
      <rect x={ax} y={boxTop} width={aw} height={boxBottom - boxTop} fill="#fff" stroke="#666" strokeWidth={0.6} />
      {c.names.map((nm: string[], i: number) => {
        const ry = firstRow + i * rowGap;
        return (
          <g key={"lg" + i}>
            <line x1={bx + 3} x2={bx + 10} y1={ry} y2={ry} stroke={c.colors[i]} strokeOpacity={0.8} strokeWidth={1.8} />
            <ClsLabel parts={nm} x={bx + 12.5} y={ry} size={lf} />
            <text x={ax + 3} y={ry} dominantBaseline="central" fontSize={lf} fill="#333">
              {c.aucs[i]}
            </text>
          </g>
        );
      })}
    </g>
  );
}

export default function App() {
  return (
    <svg width={784} height={884} style={{ position: "absolute", left: 0, top: 0, background: "#fff" }} fontFamily={FONT}>
      <rect x={0} y={0} width={784} height={884} fill="#fff" />
      <text x={2} y={16} fontSize={13} fontWeight="bold" fill="#000">a</text>
      <text x={2} y={267} fontSize={13} fontWeight="bold" fill="#000">b</text>
      <text x={391} y={508} fontSize={13} fontWeight="bold" fill="#000">c</text>
      <text x={2} y={768} fontSize={13} fontWeight="bold" fill="#000">d</text>
      {[96, 340, 593].map((cy) => (
        <text key={"sp" + cy} transform={`translate(13,${cy}) rotate(-90)`} textAnchor="middle" fontWeight="bold" fontSize={7.5} fill="#111">
          Survival probability
        </text>
      ))}
      {kmPanels.map((c, i) => (
        <KMPanel key={"km" + i} c={c} />
      ))}
      {rocPanels.map((c, i) => (
        <ROCPanel key={"roc" + i} c={c} />
      ))}
    </svg>
  );
}
